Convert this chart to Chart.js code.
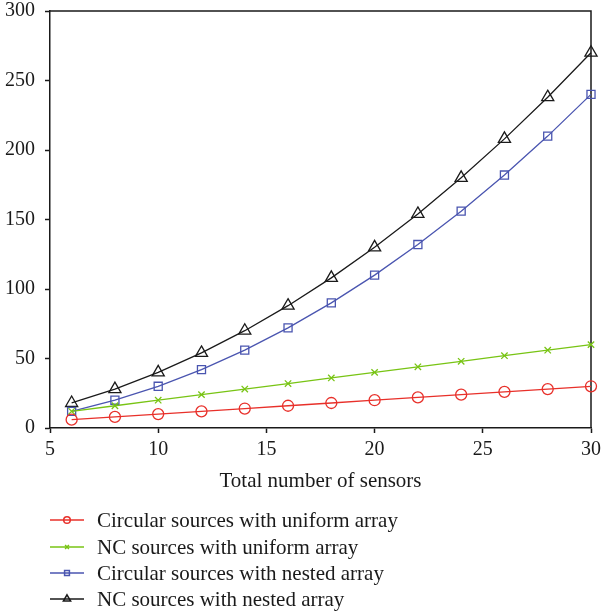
<!DOCTYPE html>
<html>
<head>
<meta charset="utf-8">
<script src="https://cdn.jsdelivr.net/npm/chart.js@4.4.0/dist/chart.umd.min.js"></script>
<style>
  html, body { margin: 0; padding: 0; background: #fff; }
</style>
</head>
<body>
<canvas id="chart" width="602" height="614"></canvas>
<script>
// data
const sensors = [6, 8, 10, 12, 14, 16, 18, 20, 22, 24, 26, 28, 30];
const circUniform = [6, 8, 10, 12, 14, 16, 18, 20, 22, 24, 26, 28, 30];
const ncUniform = [12, 16, 20, 24, 28, 32, 36, 40, 44, 48, 52, 56, 60];
const circNested = [12, 20, 30, 42, 56, 72, 90, 110, 132, 156, 182, 210, 240];
const ncNested = [18, 28, 40, 54, 70, 88, 108, 130, 154, 180, 208, 238, 270];
const seriesNames = [
    'Circular sources with uniform array',
    'NC sources with uniform array',
    'Circular sources with nested array',
    'NC sources with nested array'
];
const xTicks = [5, 10, 15, 20, 25, 30];
const yTicks = [0, 50, 100, 150, 200, 250, 300];

const FONT = "'Liberation Serif', 'DejaVu Serif', serif";
const INK = '#1a1a1a';

const toPoints = (ys) => sensors.map((x, i) => ({ x: x, y: ys[i] }));

const makeSet = (label, ys, color, style, radius) => ({
    label: label,
    data: toPoints(ys),
    borderColor: color,
    backgroundColor: 'transparent',
    borderWidth: 1.3,
    pointStyle: style,
    pointRadius: radius,
    pointBorderWidth: 1.3,
    pointBorderColor: color,
    pointBackgroundColor: 'transparent',
    tension: 0,
    clip: false
});

const datasets = [
    makeSet(seriesNames[0], circUniform, '#e8302a', 'circle', 5.5),
    makeSet(seriesNames[1], ncUniform, '#78c414', 'crossRot', 4.5),
    makeSet(seriesNames[2], circNested, '#4a55b0', 'rect', 5.7),
    makeSet(seriesNames[3], ncNested, '#1a1a1a', 'triangle', 7)
];

// labels may overflow the plot edges; the layout padding alone places the plot
const noOverflow = (scale) => {
    scale.paddingTop = 0;
    scale.paddingBottom = 0;
    scale.paddingLeft = 0;
    scale.paddingRight = 0;
};

// box around the plot (top and right edges)
const framePlugin = {
    id: 'frame',
    beforeDatasetsDraw(chart) {
        const { ctx, chartArea: a } = chart;
        ctx.save();
        ctx.strokeStyle = INK;
        ctx.lineWidth = 1.5;
        ctx.beginPath();
        ctx.moveTo(a.left, a.top);
        ctx.lineTo(a.right, a.top);
        ctx.lineTo(a.right, a.bottom);
        ctx.stroke();
        ctx.restore();
    }
};

// legend stacked below the axis title, line + small marker
const legendPlugin = {
    id: 'stackedLegend',
    afterDraw(chart) {
        const ctx = chart.ctx;
        const x0 = 50, x1 = 84, tx = 97;
        const rows = [520, 547, 573, 599];
        ctx.save();
        chart.data.datasets.forEach((ds, i) => {
            const y = rows[i];
            ctx.strokeStyle = ds.borderColor;
            ctx.lineWidth = 1.5;
            ctx.beginPath();
            ctx.moveTo(x0, y);
            ctx.lineTo(x1, y);
            ctx.stroke();
            ctx.fillStyle = 'transparent';
            Chart.helpers.drawPoint(ctx, {
                pointStyle: ds.pointStyle,
                radius: ds.pointRadius * 0.6,
                rotation: 0,
                borderWidth: 1.3
            }, (x0 + x1) / 2, y);
            ctx.fillStyle = INK;
            ctx.font = '21px ' + FONT;
            ctx.textBaseline = 'middle';
            ctx.textAlign = 'left';
            ctx.fillText(ds.label, tx, y + 1);
        });
        ctx.restore();
    }
};

new Chart(document.getElementById('chart'), {
    type: 'line',
    data: { datasets: datasets },
    options: {
        responsive: false,
        animation: false,
        layout: { padding: { top: 11, right: 11, bottom: 121, left: 0 } },
        plugins: {
            legend: { display: false },
            tooltip: { enabled: false }
        },
        scales: {
            x: {
                type: 'linear',
                min: 5,
                max: 30,
                afterBuildTicks: (scale) => { scale.ticks = xTicks.map(v => ({ value: v })); },
                ticks: { color: INK, font: { family: FONT, size: 20 }, padding: 5, maxRotation: 0 },
                grid: { drawOnChartArea: false, drawTicks: true, tickLength: 5, tickColor: INK, tickWidth: 1.5 },
                border: { display: true, color: INK, width: 1.5 },
                title: {
                    display: true,
                    text: 'Total number of sensors',
                    color: INK,
                    font: { family: FONT, size: 21 },
                    padding: { top: 4, bottom: -1 }
                },
                afterFit: (scale) => { scale.height = 65; noOverflow(scale); }
            },
            y: {
                type: 'linear',
                min: 0,
                max: 300,
                afterBuildTicks: (scale) => { scale.ticks = yTicks.map(v => ({ value: v })); },
                ticks: { color: INK, font: { family: FONT, size: 20 }, padding: 10 },
                grid: { drawOnChartArea: false, drawTicks: true, tickLength: 5, tickColor: INK, tickWidth: 1.5 },
                border: { display: true, color: INK, width: 1.5 },
                afterFit: (scale) => { scale.width = 50; noOverflow(scale); }
            }
        }
    },
    plugins: [framePlugin, legendPlugin]
});
</script>
</body>
</html>
